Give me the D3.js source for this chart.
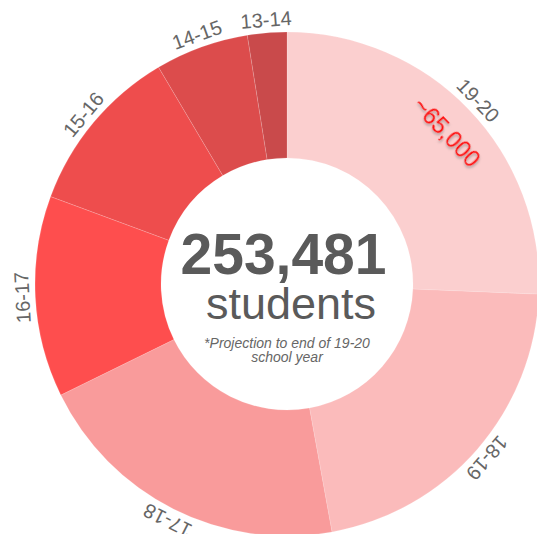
<!DOCTYPE html>
<html>
<head>
<meta charset="utf-8">
<script src="https://cdn.jsdelivr.net/npm/d3@7"></script>
<style>
    body { margin: 0; background: #fff; }
    svg { display: block; font-family: "Liberation Sans", Arial, sans-serif; }
</style>
</head>
<body>
<svg id="chart" width="537" height="534"></svg>
<script>
    // school years, drawn clockwise from 12 o'clock
    var years = ["19-20", "18-19", "17-18", "16-17", "15-16", "14-15", "13-14"];
    var students = [65000, 54500, 52200, 32700, 27500, 15200, 6381];
    var colors = ["#fbcfcf", "#fbbbbb", "#f99b9b", "#fe4e4e", "#ee4d4d", "#dc4c4c", "#c94a4b"];

    var noteText = "~65,000";
    var footnote = ["*Projection to end of 19-20", "school year"];

    // Dimensions
    var cx = 287, cy = 284;
    var outerR = 252, innerR = 126;

    var svg = d3.select("#chart");

    var defs = svg.append("defs");
    defs.append("filter")
        .attr("id", "shadow")
        .attr("x", "-20%").attr("y", "-20%")
        .attr("width", "140%").attr("height", "140%")
        .append("feDropShadow")
        .attr("dx", 1.5).attr("dy", 1.5)
        .attr("stdDeviation", 1)
        .attr("flood-color", "#777")
        .attr("flood-opacity", 0.6);

    var g = svg.append("g")
        .attr("transform", "translate(" + cx + "," + cy + ")");

    var pie = d3.pie().sort(null).value(function(d) { return d; });
    var arcs = pie(students);

    var arc = d3.arc().innerRadius(innerR).outerRadius(outerR);

    var color = d3.scaleOrdinal().domain(years).range(colors);

    g.selectAll("path.slice")
        .data(arcs)
        .enter()
        .append("path")
        .attr("class", "slice")
        .attr("d", arc)
        .attr("fill", function(d, i) { return color(years[i]); })
        .attr("stroke", "rgba(255,255,255,0.15)")
        .attr("stroke-width", 1);

    function midDeg(d) {
        return (d.startAngle + d.endAngle) / 2 * 180 / Math.PI;
    }

    // year labels round the outside, following the ring
    g.selectAll("text.year")
        .data(arcs)
        .enter()
        .append("text")
        .attr("class", "year")
        .attr("transform", function(d) {
            return "rotate(" + midDeg(d) + ") translate(0," + (-(outerR + 6)) + ")";
        })
        .attr("text-anchor", "middle")
        .attr("font-size", 20)
        .attr("fill", "#666")
        .text(function(d, i) { return years[i]; });

    // the projected value inside the 19-20 slice
    g.append("text")
        .attr("transform", "rotate(" + (midDeg(arcs[0]) + 0.3) + ") translate(0," + (-212) + ")")
        .attr("text-anchor", "middle")
        .attr("font-size", 23.5)
        .attr("fill", "#ff0a0a")
        .attr("filter", "url(#shadow)")
        .text(noteText);

    // centre text
    g.append("text")
        .attr("x", -3.5)
        .attr("y", -10)
        .attr("text-anchor", "middle")
        .attr("font-size", 57)
        .attr("font-weight", "bold")
        .attr("fill", "#5a5a5a")
        .text(d3.format(",")(d3.sum(students)));

    g.append("text")
        .attr("x", 4)
        .attr("y", 35)
        .attr("text-anchor", "middle")
        .attr("font-size", 45)
        .attr("fill", "#5a5a5a")
        .text("students");

    g.selectAll("text.note")
        .data(footnote)
        .enter()
        .append("text")
        .attr("class", "note")
        .attr("x", 0)
        .attr("y", function(d, i) { return 64 + i * 14; })
        .attr("text-anchor", "middle")
        .attr("font-size", 14)
        .attr("font-style", "italic")
        .attr("fill", "#666")
        .text(function(d) { return d; });
</script>
</body>
</html>
